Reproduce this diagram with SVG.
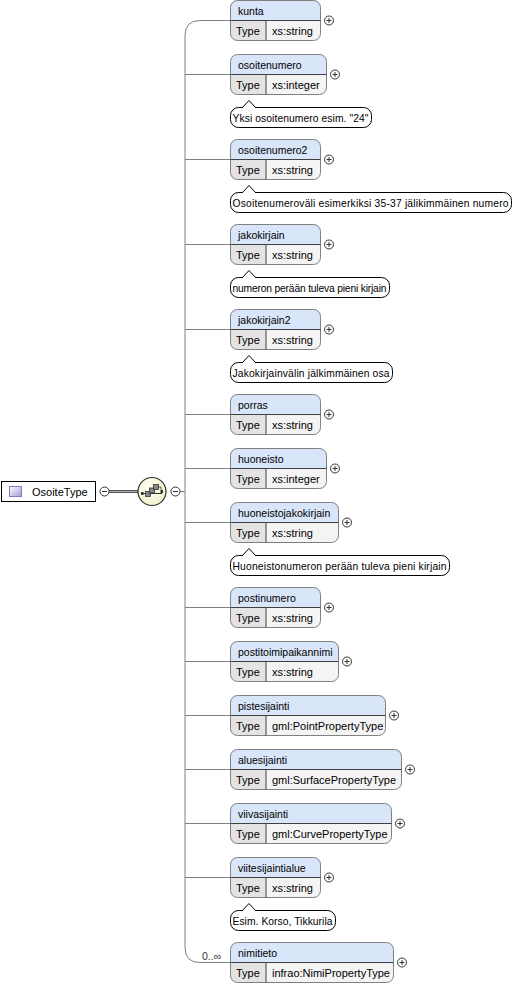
<svg xmlns="http://www.w3.org/2000/svg" width="518" height="988" viewBox="0 0 518 988">
<defs>
<linearGradient id="icoG" x1="0" y1="0" x2="1" y2="1"><stop offset="0" stop-color="#FFFFFF"/><stop offset="1" stop-color="#A898D8"/></linearGradient>
<radialGradient id="seqG" cx="0.4" cy="0.35" r="0.7"><stop offset="0" stop-color="#FFFFF4"/><stop offset="1" stop-color="#F2EFC8"/></radialGradient>
<style>
text{font-family:"Liberation Sans",Arial,sans-serif;font-size:11px;fill:#000}
.hn{font-size:10.5px}
.tt{font-size:10.3px}
.hdr{fill:#D9E5F8}
.tc{fill:#E3E3E3}
.vc{fill:#F4F4F4}
.ol{fill:none;stroke:#808080;stroke-width:1}
.dl{fill:none;stroke:#404040;stroke-width:1}
.pm{fill:#fff;stroke:#333;stroke-width:1}
.tip{fill:#fff;stroke:#000;stroke-width:1}
.con{fill:none;stroke:#808080;stroke-width:1}
</style>
</defs>
<rect width="518" height="988" fill="#fff"/>

<g id="connectors">
<path class="con" d="M231,20.5 H200 Q185,20.5 185,35.5 V947.5 Q185,962.5 200,962.5 H231"/>
<path class="con" d="M185,74.5H231M185,159.5H231M185,244.5H231M185,329.5H231M185,414.5H231M185,468.5H231M185,522.5H231M185,607.5H231M185,661.5H231M185,715.5H231M185,769.5H231M185,823.5H231M185,877.5H231M180,491.5H185"/>
<path d="M109,491.5H138" stroke="#555" stroke-width="3"/>
<path d="M109,491.5H138" stroke="#aaa" stroke-width="1"/>
<text x="202" y="960" style="font-size:10.5px;fill:#333">0..∞</text>
</g>

<g id="OsoiteType">
<rect x="1.5" y="481.5" width="94" height="20" fill="#fff" stroke="#000"/>
<rect x="9.5" y="486.5" width="12" height="10" fill="url(#icoG)" stroke="#8878B8"/>
<text x="32" y="495.5">OsoiteType</text>
<circle class="pm" cx="104.5" cy="491.5" r="4.5"/>
<path d="M102,491.5H107" stroke="#333"/>
</g>

<g id="sequence">
<ellipse cx="152" cy="491.5" rx="14" ry="14" fill="url(#seqG)" stroke="#333" stroke-width="1.2"/>
<path d="M142,493.5H162" stroke="#333" stroke-width="1"/>
<rect x="141" y="492" width="2.5" height="3" fill="#333"/>
<rect x="160.5" y="490" width="2.5" height="3" fill="#333"/>
<rect x="145.5" y="491.5" width="5" height="5" fill="#888" stroke="#333" stroke-width="0.8"/>
<rect x="149.5" y="488" width="5" height="5" fill="#888" stroke="#333" stroke-width="0.8"/>
<rect x="153.5" y="484.5" width="5" height="5" fill="#888" stroke="#333" stroke-width="0.8"/>
<path d="M158.5,487H161V490" fill="none" stroke="#333" stroke-width="0.8"/>
<circle class="pm" cx="175.5" cy="491.5" r="4.5"/>
<path d="M173,491.5H178" stroke="#333"/>
</g>

<g id="kunta" transform="translate(230.5,0.5)">
<path class="hdr" d="M0,20V7Q0,0 7,0H83Q90,0 90,7V20Z"/>
<path class="tc" d="M0,20H35.5V40H7Q0,40 0,33Z"/>
<path class="vc" d="M35.5,20H90V33Q90,40 83,40H35.5Z"/>
<rect class="ol" width="90" height="40" rx="7"/>
<path class="dl" d="M0,20H90M35.5,20V40"/>
<text class="hn" x="7.5" y="14">kunta</text><text x="5.5" y="34.5">Type</text><text x="41.5" y="34.5">xs:string</text>
<circle class="pm" cx="98.5" cy="20" r="4.5"/><path d="M96,20H101M98.5,17.5V22.5" stroke="#333"/>
</g>

<g id="osoitenumero" transform="translate(230.5,54.5)">
<path class="hdr" d="M0,20V7Q0,0 7,0H89Q96,0 96,7V20Z"/>
<path class="tc" d="M0,20H35.5V40H7Q0,40 0,33Z"/>
<path class="vc" d="M35.5,20H96V33Q96,40 89,40H35.5Z"/>
<rect class="ol" width="96" height="40" rx="7"/>
<path class="dl" d="M0,20H96M35.5,20V40"/>
<text class="hn" x="7.5" y="14">osoitenumero</text><text x="5.5" y="34.5">Type</text><text x="41.5" y="34.5">xs:integer</text>
<circle class="pm" cx="104.5" cy="20" r="4.5"/><path d="M102,20H107M104.5,17.5V22.5" stroke="#333"/>
<rect class="tip" x="0" y="53" width="141" height="20" rx="8"/>
<path d="M11.5,53.5L18.5,46L25.5,53.5" fill="#fff" stroke="#000"/>
<text class="tt" x="2" y="67" textLength="136">Yksi osoitenumero esim. "24"</text>
</g>

<g id="osoitenumero2" transform="translate(230.5,139.5)">
<path class="hdr" d="M0,20V7Q0,0 7,0H83Q90,0 90,7V20Z"/>
<path class="tc" d="M0,20H35.5V40H7Q0,40 0,33Z"/>
<path class="vc" d="M35.5,20H90V33Q90,40 83,40H35.5Z"/>
<rect class="ol" width="90" height="40" rx="7"/>
<path class="dl" d="M0,20H90M35.5,20V40"/>
<text class="hn" x="7.5" y="14">osoitenumero2</text><text x="5.5" y="34.5">Type</text><text x="41.5" y="34.5">xs:string</text>
<circle class="pm" cx="98.5" cy="20" r="4.5"/><path d="M96,20H101M98.5,17.5V22.5" stroke="#333"/>
<rect class="tip" x="0" y="53" width="281" height="20" rx="8"/>
<path d="M11.5,53.5L18.5,46L25.5,53.5" fill="#fff" stroke="#000"/>
<text class="tt" x="2" y="67" textLength="276">Osoitenumeroväli esimerkiksi 35-37 jälikimmäinen numero</text>
</g>

<g id="jakokirjain" transform="translate(230.5,224.5)">
<path class="hdr" d="M0,20V7Q0,0 7,0H83Q90,0 90,7V20Z"/>
<path class="tc" d="M0,20H35.5V40H7Q0,40 0,33Z"/>
<path class="vc" d="M35.5,20H90V33Q90,40 83,40H35.5Z"/>
<rect class="ol" width="90" height="40" rx="7"/>
<path class="dl" d="M0,20H90M35.5,20V40"/>
<text class="hn" x="7.5" y="14">jakokirjain</text><text x="5.5" y="34.5">Type</text><text x="41.5" y="34.5">xs:string</text>
<circle class="pm" cx="98.5" cy="20" r="4.5"/><path d="M96,20H101M98.5,17.5V22.5" stroke="#333"/>
<rect class="tip" x="0" y="53" width="159" height="20" rx="8"/>
<path d="M11.5,53.5L18.5,46L25.5,53.5" fill="#fff" stroke="#000"/>
<text class="tt" x="2" y="67" textLength="154">numeron perään tuleva pieni kirjain</text>
</g>

<g id="jakokirjain2" transform="translate(230.5,309.5)">
<path class="hdr" d="M0,20V7Q0,0 7,0H83Q90,0 90,7V20Z"/>
<path class="tc" d="M0,20H35.5V40H7Q0,40 0,33Z"/>
<path class="vc" d="M35.5,20H90V33Q90,40 83,40H35.5Z"/>
<rect class="ol" width="90" height="40" rx="7"/>
<path class="dl" d="M0,20H90M35.5,20V40"/>
<text class="hn" x="7.5" y="14">jakokirjain2</text><text x="5.5" y="34.5">Type</text><text x="41.5" y="34.5">xs:string</text>
<circle class="pm" cx="98.5" cy="20" r="4.5"/><path d="M96,20H101M98.5,17.5V22.5" stroke="#333"/>
<rect class="tip" x="0" y="53" width="162" height="20" rx="8"/>
<path d="M11.5,53.5L18.5,46L25.5,53.5" fill="#fff" stroke="#000"/>
<text class="tt" x="2" y="67" textLength="157">Jakokirjainvälin jälkimmäinen osa</text>
</g>

<g id="porras" transform="translate(230.5,394.5)">
<path class="hdr" d="M0,20V7Q0,0 7,0H83Q90,0 90,7V20Z"/>
<path class="tc" d="M0,20H35.5V40H7Q0,40 0,33Z"/>
<path class="vc" d="M35.5,20H90V33Q90,40 83,40H35.5Z"/>
<rect class="ol" width="90" height="40" rx="7"/>
<path class="dl" d="M0,20H90M35.5,20V40"/>
<text class="hn" x="7.5" y="14">porras</text><text x="5.5" y="34.5">Type</text><text x="41.5" y="34.5">xs:string</text>
<circle class="pm" cx="98.5" cy="20" r="4.5"/><path d="M96,20H101M98.5,17.5V22.5" stroke="#333"/>
</g>

<g id="huoneisto" transform="translate(230.5,448.5)">
<path class="hdr" d="M0,20V7Q0,0 7,0H89Q96,0 96,7V20Z"/>
<path class="tc" d="M0,20H35.5V40H7Q0,40 0,33Z"/>
<path class="vc" d="M35.5,20H96V33Q96,40 89,40H35.5Z"/>
<rect class="ol" width="96" height="40" rx="7"/>
<path class="dl" d="M0,20H96M35.5,20V40"/>
<text class="hn" x="7.5" y="14">huoneisto</text><text x="5.5" y="34.5">Type</text><text x="41.5" y="34.5">xs:integer</text>
<circle class="pm" cx="104.5" cy="20" r="4.5"/><path d="M102,20H107M104.5,17.5V22.5" stroke="#333"/>
</g>

<g id="huoneistojakokirjain" transform="translate(230.5,502.5)">
<path class="hdr" d="M0,20V7Q0,0 7,0H101Q108,0 108,7V20Z"/>
<path class="tc" d="M0,20H35.5V40H7Q0,40 0,33Z"/>
<path class="vc" d="M35.5,20H108V33Q108,40 101,40H35.5Z"/>
<rect class="ol" width="108" height="40" rx="7"/>
<path class="dl" d="M0,20H108M35.5,20V40"/>
<text class="hn" x="7.5" y="14">huoneistojakokirjain</text><text x="5.5" y="34.5">Type</text><text x="41.5" y="34.5">xs:string</text>
<circle class="pm" cx="116.5" cy="20" r="4.5"/><path d="M114,20H119M116.5,17.5V22.5" stroke="#333"/>
<rect class="tip" x="0" y="53" width="219" height="20" rx="8"/>
<path d="M11.5,53.5L18.5,46L25.5,53.5" fill="#fff" stroke="#000"/>
<text class="tt" x="2" y="67" textLength="214">Huoneistonumeron perään tuleva pieni kirjain</text>
</g>

<g id="postinumero" transform="translate(230.5,587.5)">
<path class="hdr" d="M0,20V7Q0,0 7,0H83Q90,0 90,7V20Z"/>
<path class="tc" d="M0,20H35.5V40H7Q0,40 0,33Z"/>
<path class="vc" d="M35.5,20H90V33Q90,40 83,40H35.5Z"/>
<rect class="ol" width="90" height="40" rx="7"/>
<path class="dl" d="M0,20H90M35.5,20V40"/>
<text class="hn" x="7.5" y="14">postinumero</text><text x="5.5" y="34.5">Type</text><text x="41.5" y="34.5">xs:string</text>
<circle class="pm" cx="98.5" cy="20" r="4.5"/><path d="M96,20H101M98.5,17.5V22.5" stroke="#333"/>
</g>

<g id="postitoimipaikannimi" transform="translate(230.5,641.5)">
<path class="hdr" d="M0,20V7Q0,0 7,0H101Q108,0 108,7V20Z"/>
<path class="tc" d="M0,20H35.5V40H7Q0,40 0,33Z"/>
<path class="vc" d="M35.5,20H108V33Q108,40 101,40H35.5Z"/>
<rect class="ol" width="108" height="40" rx="7"/>
<path class="dl" d="M0,20H108M35.5,20V40"/>
<text class="hn" x="7.5" y="14">postitoimipaikannimi</text><text x="5.5" y="34.5">Type</text><text x="41.5" y="34.5">xs:string</text>
<circle class="pm" cx="116.5" cy="20" r="4.5"/><path d="M114,20H119M116.5,17.5V22.5" stroke="#333"/>
</g>

<g id="pistesijainti" transform="translate(230.5,695.5)">
<path class="hdr" d="M0,20V7Q0,0 7,0H148Q155,0 155,7V20Z"/>
<path class="tc" d="M0,20H35.5V40H7Q0,40 0,33Z"/>
<path class="vc" d="M35.5,20H155V33Q155,40 148,40H35.5Z"/>
<rect class="ol" width="155" height="40" rx="7"/>
<path class="dl" d="M0,20H155M35.5,20V40"/>
<text class="hn" x="7.5" y="14">pistesijainti</text><text x="5.5" y="34.5">Type</text><text x="41.5" y="34.5">gml:PointPropertyType</text>
<circle class="pm" cx="163.5" cy="20" r="4.5"/><path d="M161,20H166M163.5,17.5V22.5" stroke="#333"/>
</g>

<g id="aluesijainti" transform="translate(230.5,749.5)">
<path class="hdr" d="M0,20V7Q0,0 7,0H164Q171,0 171,7V20Z"/>
<path class="tc" d="M0,20H35.5V40H7Q0,40 0,33Z"/>
<path class="vc" d="M35.5,20H171V33Q171,40 164,40H35.5Z"/>
<rect class="ol" width="171" height="40" rx="7"/>
<path class="dl" d="M0,20H171M35.5,20V40"/>
<text class="hn" x="7.5" y="14">aluesijainti</text><text x="5.5" y="34.5">Type</text><text x="41.5" y="34.5">gml:SurfacePropertyType</text>
<circle class="pm" cx="179.5" cy="20" r="4.5"/><path d="M177,20H182M179.5,17.5V22.5" stroke="#333"/>
</g>

<g id="viivasijainti" transform="translate(230.5,803.5)">
<path class="hdr" d="M0,20V7Q0,0 7,0H154Q161,0 161,7V20Z"/>
<path class="tc" d="M0,20H35.5V40H7Q0,40 0,33Z"/>
<path class="vc" d="M35.5,20H161V33Q161,40 154,40H35.5Z"/>
<rect class="ol" width="161" height="40" rx="7"/>
<path class="dl" d="M0,20H161M35.5,20V40"/>
<text class="hn" x="7.5" y="14">viivasijainti</text><text x="5.5" y="34.5">Type</text><text x="41.5" y="34.5">gml:CurvePropertyType</text>
<circle class="pm" cx="169.5" cy="20" r="4.5"/><path d="M167,20H172M169.5,17.5V22.5" stroke="#333"/>
</g>

<g id="viitesijaintialue" transform="translate(230.5,857.5)">
<path class="hdr" d="M0,20V7Q0,0 7,0H83Q90,0 90,7V20Z"/>
<path class="tc" d="M0,20H35.5V40H7Q0,40 0,33Z"/>
<path class="vc" d="M35.5,20H90V33Q90,40 83,40H35.5Z"/>
<rect class="ol" width="90" height="40" rx="7"/>
<path class="dl" d="M0,20H90M35.5,20V40"/>
<text class="hn" x="7.5" y="14">viitesijaintialue</text><text x="5.5" y="34.5">Type</text><text x="41.5" y="34.5">xs:string</text>
<circle class="pm" cx="98.5" cy="20" r="4.5"/><path d="M96,20H101M98.5,17.5V22.5" stroke="#333"/>
<rect class="tip" x="0" y="53" width="105" height="20" rx="8"/>
<path d="M11.5,53.5L18.5,46L25.5,53.5" fill="#fff" stroke="#000"/>
<text class="tt" x="2" y="67" textLength="100">Esim. Korso, Tikkurila</text>
</g>

<g id="nimitieto" transform="translate(230.5,942.5)">
<path class="hdr" d="M0,20V7Q0,0 7,0H156Q163,0 163,7V20Z"/>
<path class="tc" d="M0,20H35.5V40H7Q0,40 0,33Z"/>
<path class="vc" d="M35.5,20H163V33Q163,40 156,40H35.5Z"/>
<rect class="ol" width="163" height="40" rx="7"/>
<path class="dl" d="M0,20H163M35.5,20V40"/>
<text class="hn" x="7.5" y="14">nimitieto</text><text x="5.5" y="34.5">Type</text><text x="41.5" y="34.5">infrao:NimiPropertyType</text>
<circle class="pm" cx="171.5" cy="20" r="4.5"/><path d="M169,20H174M171.5,17.5V22.5" stroke="#333"/>
</g>
</svg>
